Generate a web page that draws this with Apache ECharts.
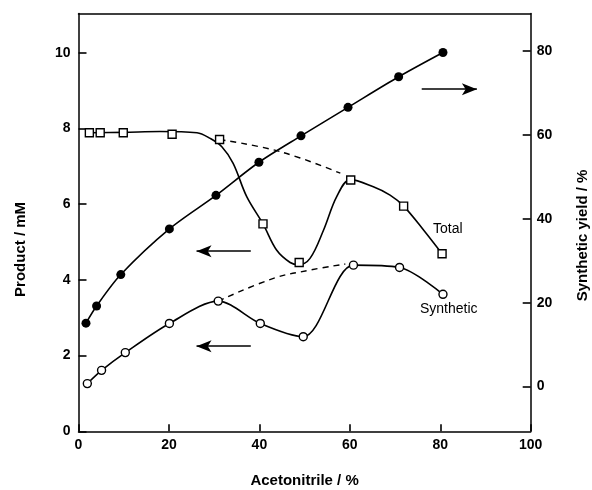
<!DOCTYPE html>
<html>
<head>
<meta charset="utf-8">
<script src="https://cdn.jsdelivr.net/npm/echarts@6/dist/echarts.min.js"></script>
<style>
  html, body { margin: 0; padding: 0; background: #fff; }
  #chart { width: 592px; height: 490px; }
</style>
</head>
<body>
<div id="chart"></div>
<script>
// Acetonitrile content (%) for each measured series
const acnYield = [1.65, 4.0, 9.35, 20.1, 30.4, 39.9, 49.2, 59.6, 70.8, 80.6];
const yieldPct = [15.1, 19.2, 26.7, 37.6, 45.6, 53.5, 59.8, 66.6, 73.9, 79.7];

const acnTotal = [2.4, 4.8, 9.9, 20.7, 31.2, 40.8, 48.8, 60.2, 71.9, 80.4];
const totalMM = [7.89, 7.89, 7.89, 7.85, 7.71, 5.48, 4.46, 6.64, 5.95, 4.69];

const acnSynth = [1.95, 5.1, 10.35, 20.1, 30.9, 40.2, 49.7, 60.8, 71.0, 80.6];
const synthMM = [1.26, 1.61, 2.08, 2.85, 3.44, 2.85, 2.50, 4.39, 4.33, 3.62];

// Hand-drawn trend through the total product points
const totalCurveX = [2.4, 10, 18, 26.2, 29.1, 31.7, 34.2, 37.2, 40.8, 43.8, 46.8, 48.6, 51.2, 54.2, 57.1, 60.1, 65.2, 68.9, 71.9, 76.3, 80.4];
const totalCurveY = [7.89, 7.90, 7.92, 7.89, 7.74, 7.52, 7.08, 6.20, 5.48, 4.79, 4.46, 4.40, 4.57, 5.32, 6.20, 6.65, 6.46, 6.24, 5.95, 5.32, 4.69];

// Dashed extrapolations
const totalDashX = [31.2, 44.6, 57.9];
const totalDashY = [7.71, 7.39, 6.82];
const synthDashX = [30.9, 43.1, 51.2, 59.0];
const synthDashY = [3.44, 4.04, 4.26, 4.42];

// Axis arrows: [x start, x end, y on product axis]
const arrowYield = [75.9, 88.1, 9.04];
const arrowTotal = [38.1, 26.1, 4.76];
const arrowSynth = [38.1, 26.1, 2.25];

// Tick labels
const xTicks = [0, 20, 40, 60, 80, 100];
const productTicks = [0, 2, 4, 6, 8, 10];
const yieldTicks = [0, 20, 40, 60, 80];

const pairs = (xs, ys) => xs.map((x, i) => [x, ys[i]]);
const FONT = 'Liberation Sans, Arial, Helvetica, sans-serif';
const ink = '#000';

const tickLabel = { color: ink, fontFamily: FONT, fontWeight: 'bold', fontSize: 14 };
const axisTitle = { color: ink, fontFamily: FONT, fontWeight: 'bold', fontSize: 15 };
const tickStyle = { color: ink, width: 1.6 };
const frameLine = { show: true, onZero: false, lineStyle: { color: ink, width: 1.5 } };

const chart = echarts.init(document.getElementById('chart'), null, { renderer: 'canvas' });

const arrowLine = a => [{ coord: [a[0], a[2]] }, { coord: [a[1], a[2]] }];

chart.setOption({
  animation: false,
  backgroundColor: '#fff',
  grid: {
    left: 78.5, right: 61.3, top: 13.5, bottom: 58.7,
    outerBoundsMode: 'none', containLabel: false
  },
  xAxis: [
    {
      type: 'value', min: 0, max: 100, position: 'bottom',
      name: 'Acetonitrile / %', nameLocation: 'middle', nameGap: 42,
      nameTextStyle: axisTitle,
      axisLine: frameLine,
      axisTick: { show: true, inside: true, length: 7, customValues: xTicks, lineStyle: tickStyle },
      axisLabel: Object.assign({ margin: 7, customValues: xTicks }, tickLabel),
      splitLine: { show: false }
    },
    {
      // top edge of the frame
      type: 'value', min: 0, max: 100, position: 'top',
      axisLine: frameLine,
      axisTick: { show: false }, axisLabel: { show: false }, splitLine: { show: false }
    }
  ],
  yAxis: [
    {
      type: 'value', min: 0, max: 11.04, position: 'left',
      name: 'Product / mM', nameLocation: 'middle', nameGap: 50, nameRotate: 90,
      nameTextStyle: Object.assign({ padding: [0, 54, 0, 0] }, axisTitle),
      axisLine: frameLine,
      axisTick: { show: true, inside: true, length: 8, customValues: productTicks, lineStyle: tickStyle },
      axisLabel: Object.assign({ margin: 8, customValues: productTicks }, tickLabel),
      splitLine: { show: false }
    },
    {
      type: 'value', min: -10.7, max: 89, position: 'right',
      name: 'Synthetic yield / %', nameLocation: 'middle', nameGap: 44.5, nameRotate: 90,
      nameTextStyle: Object.assign({ padding: [0, 26, 0, 0] }, axisTitle),
      axisLine: frameLine,
      axisTick: { show: true, inside: true, length: 8, customValues: yieldTicks, lineStyle: tickStyle },
      axisLabel: Object.assign({ margin: 6, customValues: yieldTicks }, tickLabel),
      splitLine: { show: false }
    }
  ],
  series: [
    {
      name: 'Synthetic yield', type: 'line', yAxisIndex: 1, smooth: 0.3,
      data: pairs(acnYield, yieldPct),
      symbol: 'circle', symbolSize: 9, showAllSymbol: true,
      lineStyle: { color: ink, width: 1.6 },
      itemStyle: { color: ink, opacity: 1 }, z: 3
    },
    {
      name: 'Total trend', type: 'line', yAxisIndex: 0, smooth: 0.35,
      data: pairs(totalCurveX, totalCurveY), symbol: 'none',
      lineStyle: { color: ink, width: 1.6 }, z: 2,
      markLine: {
        silent: true, symbol: ['none', 'arrow'], symbolSize: [9, 15],
        label: { show: false },
        lineStyle: { color: ink, width: 1.6, type: 'solid' },
        data: [arrowLine(arrowYield), arrowLine(arrowTotal), arrowLine(arrowSynth)]
      }
    },
    {
      name: 'Total dashed', type: 'line', yAxisIndex: 0, smooth: 0.4,
      data: pairs(totalDashX, totalDashY), symbol: 'none',
      lineStyle: { color: ink, width: 1.4, type: [6, 5] }, z: 2
    },
    {
      name: 'Synthetic dashed', type: 'line', yAxisIndex: 0, smooth: 0.4,
      data: pairs(synthDashX, synthDashY), symbol: 'none',
      lineStyle: { color: ink, width: 1.4, type: [6, 5] }, z: 2
    },
    {
      name: 'Total', type: 'scatter', yAxisIndex: 0,
      data: pairs(acnTotal, totalMM),
      symbol: 'rect', symbolSize: 8,
      itemStyle: { color: '#fff', borderColor: ink, borderWidth: 1.4, opacity: 1 }, z: 5
    },
    {
      name: 'Synthetic', type: 'line', yAxisIndex: 0, smooth: 0.3,
      data: pairs(acnSynth, synthMM),
      symbol: 'circle', symbolSize: 8, showAllSymbol: true,
      lineStyle: { color: ink, width: 1.6 },
      itemStyle: { color: '#fff', borderColor: ink, borderWidth: 1.4, opacity: 1 }, z: 4
    }
  ],
  graphic: [
    { type: 'text', left: 433, top: 222, style: { text: 'Total', font: '14px ' + FONT, fill: ink } },
    { type: 'text', left: 420, top: 302, style: { text: 'Synthetic', font: '14px ' + FONT, fill: ink } }
  ]
});
</script>
</body>
</html>
